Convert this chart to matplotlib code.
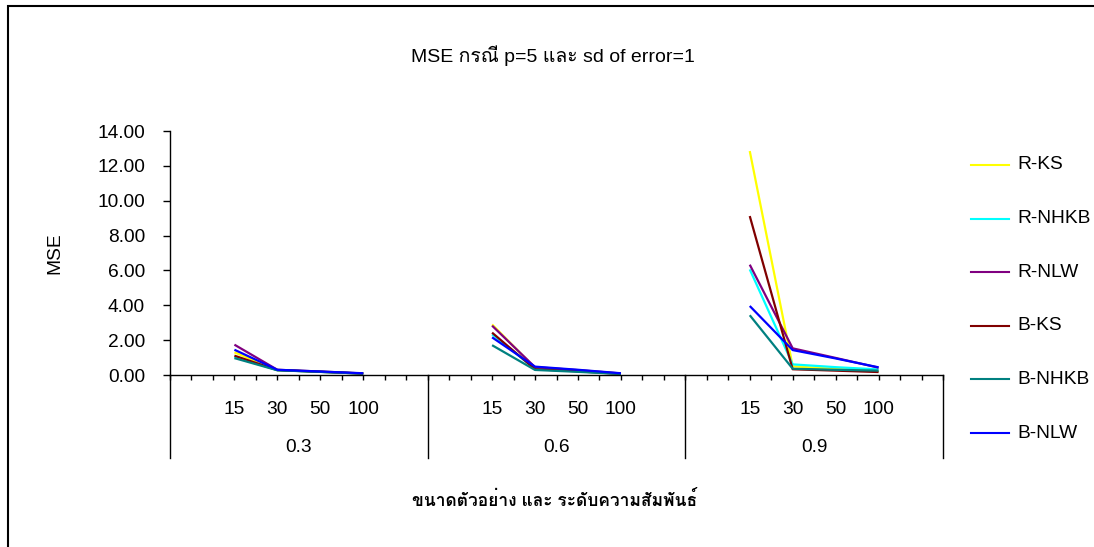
import numpy as np
import matplotlib
matplotlib.use("Agg")
import matplotlib.pyplot as plt
import matplotlib.font_manager as fm
from matplotlib.ft2font import FT2Font
from matplotlib.lines import Line2D
from matplotlib.patches import Rectangle
from matplotlib.transforms import blended_transform_factory

# ── data ──────────────────────────────────────────────
groups = ["0.3", "0.6", "0.9"]
sizes = ["15", "30", "50", "100"]
series_names = ["R-KS", "R-NHKB", "R-NLW", "B-KS", "B-NHKB", "B-NLW"]
series_colors = ["#FFFF00", "#00FFFF", "#800080", "#800000", "#008080", "#0000FF"]

r_ks = [1.30, 0.29, 0.19, 0.09, 2.90, 0.40, 0.25, 0.08, 12.85, 0.50, 0.35, 0.22]
r_nhkb = [1.03, 0.28, 0.18, 0.08, 2.33, 0.35, 0.22, 0.07, 6.06, 0.61, 0.45, 0.32]
r_nlw = [1.74, 0.30, 0.20, 0.09, 2.83, 0.45, 0.28, 0.09, 6.33, 1.53, 0.98, 0.42]
b_ks = [1.11, 0.28, 0.18, 0.08, 2.43, 0.33, 0.21, 0.06, 9.12, 0.33, 0.25, 0.17]
b_nhkb = [0.97, 0.27, 0.18, 0.08, 1.71, 0.29, 0.18, 0.06, 3.43, 0.36, 0.30, 0.25]
b_nlw = [1.45, 0.30, 0.20, 0.10, 2.16, 0.48, 0.30, 0.10, 3.96, 1.43, 0.95, 0.44]
series_values = [r_ks, r_nhkb, r_nlw, b_ks, b_nhkb, b_nlw]

title = "MSE กรณี p=5 และ sd of error=1"
xlabel = "ขนาดตัวอย่าง และ ระดับความสัมพันธ์"
ylabel = "MSE"


def find_thai_family():
    for f in fm.fontManager.ttflist:
        try:
            if 0x0E01 in FT2Font(f.fname).get_charmap():
                return f.name
        except Exception:
            continue
    return None


thai = find_thai_family()
fams = ["Liberation Sans"] + ([thai] if thai else []) + ["DejaVu Sans"]
plt.rcParams["font.family"] = fams
FS = 13.8

W, H = 1094, 547
fig = plt.figure(figsize=(W / 100, H / 100), dpi=100)
fig.patch.set_facecolor("white")

# outer frame (only top/left visible in crop)
fig.patches.append(Rectangle((8 / W, -0.2), 1.2, 1.2 - 6 / H,
                             transform=fig.transFigure, fill=False,
                             edgecolor="black", linewidth=1.5))

x0, x1, y0, y1 = 170, 943, 375, 131
ax = fig.add_axes([x0 / W, 1 - y0 / H, (x1 - x0) / W, (y0 - y1) / H])
ax.set_facecolor("none")

slots = 12  # category slots per group
pos_in_group = [3, 5, 7, 9]

for name, vals, col in zip(series_names, series_values, series_colors):
    for g in range(len(groups)):
        xs = [g * slots + p for p in pos_in_group]
        ys = vals[g * 4:(g + 1) * 4]
        ax.plot(xs, ys, color=col, linewidth=1.6, solid_capstyle="butt")

ax.set_xlim(0, slots * len(groups))
ax.set_ylim(0, 14)
ax.set_yticks(np.arange(0, 15, 2))
ax.set_yticklabels([f"{v:.2f}" for v in np.arange(0, 15, 2)], fontsize=FS)
ax.set_xticks(range(slots * len(groups) + 1))
ax.set_xticklabels([])
ax.tick_params(axis="y", direction="out", length=5, width=1, pad=13)
ax.tick_params(axis="x", direction="out", length=3.5, width=1)
for s in ["top", "right"]:
    ax.spines[s].set_visible(False)
ax.spines["left"].set_linewidth(1)
ax.spines["bottom"].set_linewidth(1)

trans = blended_transform_factory(ax.transData, ax.transAxes)
line_bottom = -(458 - 375) / (375 - 131)
for g in range(len(groups) + 1):
    ax.plot([g * slots, g * slots], [0, line_bottom], transform=trans,
            color="black", linewidth=1, clip_on=False)

size_y = -(409 - 375) / (375 - 131)
group_y = -(448 - 375) / (375 - 131)
for g, gl in enumerate(groups):
    for p, sl in zip(pos_in_group, sizes):
        ax.text(g * slots + p, size_y, sl, transform=trans, ha="center",
                va="center", fontsize=FS)
    ax.text(g * slots + slots / 2, group_y, gl, transform=trans, ha="center",
            va="center", fontsize=FS)

fig.text(55 / W, 1 - 253 / H, ylabel, rotation=90, ha="center", va="center",
         fontsize=FS)
fig.text(553 / W, 1 - 56 / H, title, ha="center", va="center", fontsize=14)
fig.text(555 / W, 1 - 499 / H, xlabel, ha="center", va="center", fontsize=12.5,
         fontweight="bold")

# legend drawn by hand to match Excel spacing
for i, (name, col) in enumerate(zip(series_names, series_colors)):
    yy = 1 - (165 + i * 53.6) / H
    fig.add_artist(Line2D([971 / W, 1009 / W], [yy, yy], color=col,
                          linewidth=1.5, transform=fig.transFigure))
    fig.text(1017 / W, yy, name, ha="left", va="center", fontsize=FS)

fig.savefig("out.png", dpi=100)
